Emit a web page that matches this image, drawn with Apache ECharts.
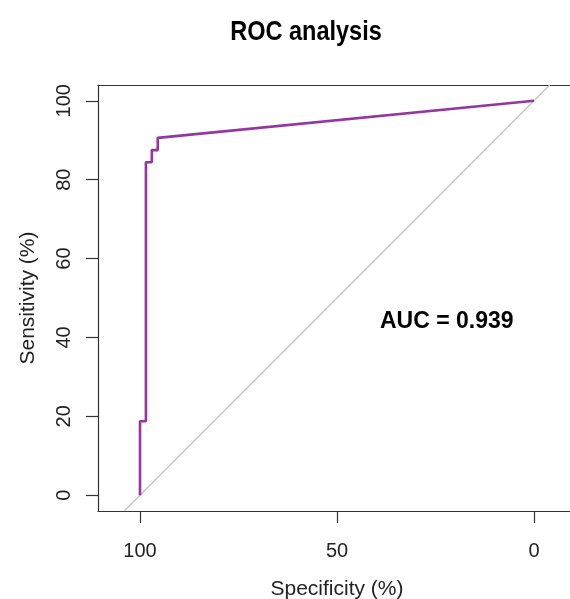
<!DOCTYPE html>
<html lang="en">
<head>
    <meta charset="UTF-8">
    <title>ROC analysis</title>
    <script src="https://cdn.jsdelivr.net/npm/echarts@6/dist/echarts.min.js"></script>
    <style>
        html, body {margin: 0; padding: 0; background: #fff;}
    </style>
</head>
<body>
    <div id="roc" style="width: 570px; height: 599px"></div>
    <script type="text/javascript">
        // ROC coordinates (specificity %, sensitivity %)
        let specificity = [100, 100, 98.5, 98.5, 97, 97, 95.5, 95.5, 0];
        let sensitivity = [0, 18.75, 18.75, 84.4, 84.4, 87.5, 87.5, 90.6, 100];
        // chance line, clipped to the plot region
        let diagSpec = [104, -4];
        let diagSens = [-4, 104];
        let xTicks = [0, 50, 100];
        let yTicks = [0, 20, 40, 60, 80, 100];
        let aucText = 'AUC = 0.939';

        let sans = '"Liberation Sans", Arial, sans-serif';
        let boxLine = {show: true, onZero: false, lineStyle: {color: '#333', width: 1.2}};

        let rocData = specificity.map((s, i) => [s, sensitivity[i]]);
        let diagData = diagSpec.map((s, i) => [s, diagSens[i]]);

        let myChart = echarts.init(document.getElementById('roc'));
        let option = {
            animation: false,
            backgroundColor: '#fff',
            grid: {
                left: 98, top: 85, width: 478, height: 426,
                outerBoundsMode: 'none',
                containLabel: false
            },
            xAxis: [
                {
                    type: 'value',
                    inverse: true,
                    min: -10.66,
                    max: 110.66,
                    name: 'Specificity (%)',
                    nameLocation: 'middle',
                    nameGap: 68,
                    nameTextStyle: {fontFamily: sans, fontSize: 21, color: '#222'},
                    axisLine: boxLine,
                    splitLine: {show: false},
                    axisTick: {show: true, length: 12, customValues: xTicks, lineStyle: {color: '#333', width: 1.2}},
                    axisLabel: {customValues: xTicks, margin: 30, fontFamily: sans, fontSize: 20, color: '#222'}
                },
                {
                    // top edge of the box
                    type: 'value',
                    position: 'top',
                    inverse: true,
                    min: -10.66,
                    max: 110.66,
                    axisLine: boxLine,
                    axisTick: {show: false},
                    axisLabel: {show: false},
                    splitLine: {show: false}
                }
            ],
            yAxis: {
                type: 'value',
                min: -4,
                max: 104,
                name: 'Sensitivity (%)',
                nameLocation: 'middle',
                nameGap: 59,
                nameRotate: 90,
                nameTextStyle: {fontFamily: sans, fontSize: 21, color: '#222'},
                axisLine: boxLine,
                splitLine: {show: false},
                axisTick: {show: true, length: 12, customValues: yTicks, lineStyle: {color: '#333', width: 1.2}},
                axisLabel: {customValues: yTicks, rotate: 90, margin: 24, fontFamily: sans, fontSize: 20, color: '#222'}
            },
            series: [
                {
                    name: 'chance',
                    type: 'line',
                    data: diagData,
                    symbol: 'none',
                    silent: true,
                    lineStyle: {color: '#c4c4c4', width: 1.3},
                    z: 2
                },
                {
                    name: 'ROC',
                    type: 'line',
                    data: rocData,
                    symbol: 'none',
                    lineStyle: {color: '#9436a0', width: 2.6},
                    z: 3
                }
            ],
            graphic: [
                {
                    // condensed bold title (no narrow font installed)
                    type: 'text',
                    x: 306,
                    y: 32,
                    scaleX: 0.84,
                    style: {text: 'ROC analysis', font: 'bold 28px ' + sans, fill: '#000',
                        align: 'center', verticalAlign: 'middle'}
                },
                {
                    type: 'text',
                    left: 380,
                    top: 310,
                    style: {text: aucText, font: 'bold 23px ' + sans, fill: '#000'}
                }
            ]
        };
        myChart.setOption(option);
    </script>
</body>
</html>
